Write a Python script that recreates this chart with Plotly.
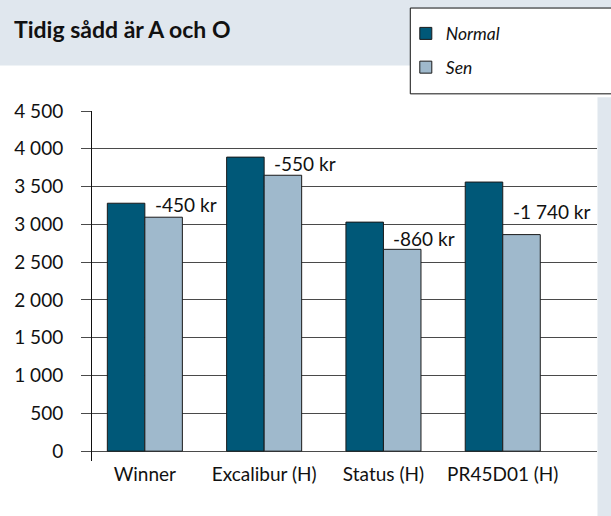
import plotly.graph_objects as go

categories = ["Winner", "Excalibur (H)", "Status (H)", "PR45D01 (H)"]
normal = [3280, 3890, 3030, 3560]
sen = [3095, 3650, 2670, 2865]
diff_labels = ["-450 kr", "-550 kr", "-860 kr", "-1 740 kr"]
ytick_vals = [0, 500, 1000, 1500, 2000, 2500, 3000, 3500, 4000, 4500]
ytick_text = ["0", "500", "1 000", "1 500", "2 000", "2 500", "3 000", "3 500", "4 000", "4 500"]
title_text = "Tidig sådd är A och O"

W, H = 611, 516
L, R, T, B = 91.7, 13.5, 110.7, 54.5
pw = W - L - R
ph = H - T - B

def px2x(px):
    return (px - L) / pw

def px2y(py):
    return (H - B - py) / ph

FONT = "Lato"
band = "#e0e7ee"

fig = go.Figure()
fig.add_bar(name="Normal", x=categories, y=normal, marker=dict(color="#005878", line=dict(color="#1a1a1a", width=1)), legendgroup="a")
fig.add_bar(name="Sen", x=categories, y=sen, marker=dict(color="#9fb9cc", line=dict(color="#1a1a1a", width=1)), legendgroup="b")

label_yshift = [13, 12, 11, 23]
annotations = []
for i, (c, v, t) in enumerate(zip(categories, sen, diff_labels)):
    annotations.append(dict(x=i, y=v, xref="x", yref="y", text=t, showarrow=False,
                            xanchor="left", yanchor="middle", xshift=8, yshift=label_yshift[i],
                            font=dict(family=FONT, size=19, color="#111")))
annotations.append(dict(x=px2x(12), y=px2y(29), xref="paper", yref="paper", text="<b>" + title_text + "</b>",
                        showarrow=False, xanchor="left", yanchor="middle",
                        font=dict(family=FONT, size=23, color="#111")))

shapes = [
    dict(type="rect", xref="paper", yref="paper", x0=px2x(-2), x1=px2x(W + 2), y0=px2y(65), y1=px2y(-2),
         fillcolor=band, line=dict(width=0), layer="below"),
    dict(type="rect", xref="paper", yref="paper", x0=px2x(598), x1=px2x(W + 2), y0=px2y(W), y1=px2y(97),
         fillcolor=band, line=dict(width=0), layer="below"),
    dict(type="rect", xref="paper", yref="paper", x0=px2x(410.5), x1=px2x(W + 5), y0=px2y(93.5), y1=px2y(7.5),
         fillcolor="white", line=dict(color="#111", width=1), layer="below"),
]

fig.update_layout(
    width=W, height=H,
    margin=dict(l=L, r=R, t=T, b=B, pad=0),
    paper_bgcolor="white", plot_bgcolor="white",
    barmode="group", bargap=0.371, bargroupgap=0,
    font=dict(family=FONT, size=19, color="#111"),
    showlegend=True,
    legend=dict(x=px2x(406), y=px2y(15), xanchor="left", yanchor="top",
                bgcolor="rgba(0,0,0,0)", borderwidth=0,
                font=dict(family=FONT, size=17.5, color="#111", style="italic"),
                traceorder="grouped", tracegroupgap=8),
    annotations=annotations,
    shapes=shapes,
    xaxis=dict(range=[-0.443, 3.79], showgrid=False, showline=False, zeroline=False, ticks="",
               tickfont=dict(family=FONT, size=19, color="#111")),
    yaxis=dict(range=[-130, 4500], tickvals=ytick_vals, ticktext=ytick_text,
               showgrid=True, gridcolor="#4a4a4a", gridwidth=1, zeroline=False,
               showline=True, linecolor="#111", linewidth=1,
               ticks="outside", ticklen=10, tickcolor="#4a4a4a", tickwidth=1,
               ticklabelstandoff=14,
               tickfont=dict(family=FONT, size=19, color="#111")),
    hovermode=False,
)

fig.write_html("out.html", config={"displayModeBar": False},
               post_script="document.body.style.margin='0px';document.body.style.padding='0px';")
